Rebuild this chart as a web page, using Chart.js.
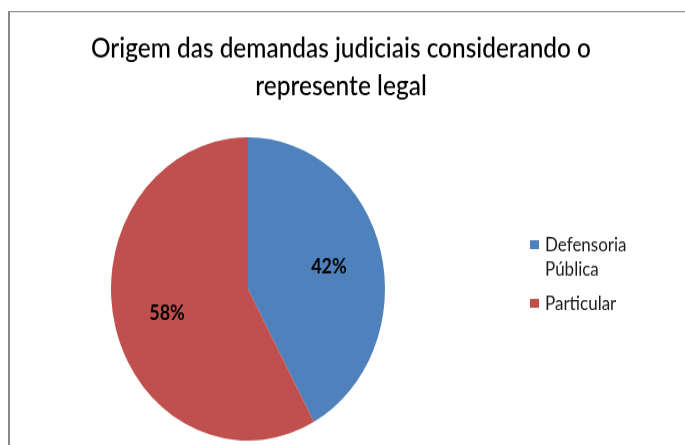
<!DOCTYPE html>
<html>
<head>
<meta charset="utf-8">
<script src="https://cdn.jsdelivr.net/npm/chart.js@4/dist/chart.umd.min.js"></script>
<style>
  html, body { margin: 0; padding: 0; background: #fff; width: 685px; height: 445px; overflow: hidden; }
  #outer { width: 685px; height: 445px; position: relative; overflow: hidden; }
  #wrap { position: absolute; left: 0; top: 0; width: 685px; height: 402px; transform: scaleY(1.107); transform-origin: 0 0; }
  canvas { display: block; }
</style>
</head>
<body>
<div id="outer"><div id="wrap"><canvas id="c" width="685" height="402"></canvas></div></div>
<script>
const titleLines = ['Origem das demandas judiciais considerando o', 'represente legal'];
const categories = ['Defensoria Pública', 'Particular'];
const values = [42, 58];
const colors = ['#4F81BD', '#C0504D'];

function wrapText(ctx, text, maxW) {
  const words = text.split(' ');
  const lines = [];
  let cur = '';
  for (const w of words) {
    const t = cur ? cur + ' ' + w : w;
    if (cur && ctx.measureText(t).width > maxW) { lines.push(cur); cur = w; }
    else cur = t;
  }
  if (cur) lines.push(cur);
  return lines;
}

const decor = {
  id: 'decor',
  beforeDraw(chart) {
    const ctx = chart.ctx;
    ctx.save();
    ctx.fillStyle = '#fff';
    ctx.fillRect(0, 0, chart.width, chart.height);
    // outer frame
    ctx.fillStyle = '#868686';
    ctx.fillRect(8, 10, 2, chart.height);
    ctx.fillRect(8, 10, chart.width, 1);
    ctx.restore();
  },
  afterDraw(chart) {
    const ctx = chart.ctx;
    ctx.save();
    // title
    ctx.fillStyle = '#000';
    ctx.textAlign = 'center';
    ctx.textBaseline = 'alphabetic';
    ctx.font = '500 24.5px Lato, "Liberation Sans", sans-serif';
    ctx.fillText(titleLines[0], 341, 52, 500);
    ctx.fillText(titleLines[1], 341, 86, 500);

    // percentage labels
    const meta = chart.getDatasetMeta(0);
    const total = values.reduce((a, b) => a + b, 0);
    ctx.font = 'bold 18px Lato, "Liberation Sans", sans-serif';
    ctx.textAlign = 'center';
    ctx.textBaseline = 'middle';
    meta.data.forEach((arc, i) => {
      const p = arc.getProps(['x', 'y', 'startAngle', 'endAngle', 'outerRadius'], true);
      const mid = (p.startAngle + p.endAngle) / 2;
      const f = 0.61;
      const x = p.x + Math.cos(mid) * p.outerRadius * f;
      const y = p.y + Math.sin(mid) * p.outerRadius * f;
      ctx.fillText(Math.round(values[i] / total * 100) + '%', x, y + 1, 41);
    });

    // legend
    ctx.font = '17px Lato, "Liberation Sans", sans-serif';
    ctx.textAlign = 'left';
    ctx.textBaseline = 'alphabetic';
    let baseY = 226.5;
    categories.forEach((cat, i) => {
      const lines = wrapText(ctx, cat, 95);
      ctx.fillStyle = colors[i];
      ctx.fillRect(530, baseY - 9.5, 9, 8);
      ctx.fillStyle = '#1a1a1a';
      lines.forEach((ln, k) => ctx.fillText(ln, 545, baseY + k * 22));
      baseY += lines.length * 22 + 9;
    });
    ctx.restore();
  }
};

new Chart(document.getElementById('c'), {
  type: 'pie',
  data: {
    labels: categories,
    datasets: [{
      data: values,
      backgroundColor: colors,
      borderWidth: 0,
      hoverOffset: 0,
      offset: 0
    }]
  },
  options: {
    responsive: false,
    animation: false,
    events: [],
    devicePixelRatio: 1,
    layout: { padding: { left: 111, right: 300, top: 124, bottom: 4 } },
    plugins: {
      legend: { display: false },
      title: { display: false },
      tooltip: { enabled: false }
    }
  },
  plugins: [decor]
});
</script>
</body>
</html>
